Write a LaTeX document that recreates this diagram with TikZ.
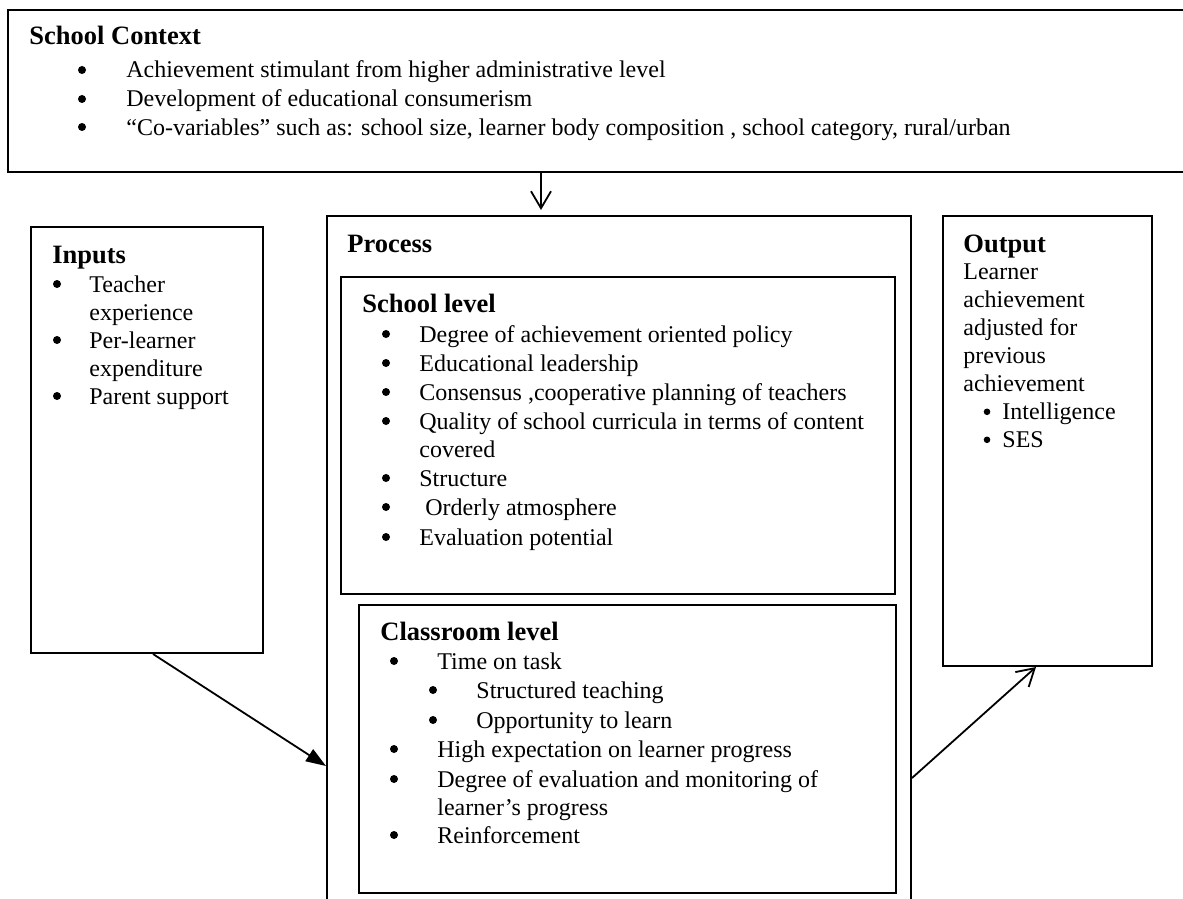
\documentclass[tikz,border=0pt]{standalone}
\usepackage{fontspec}
\setmainfont{Liberation Serif}
\usetikzlibrary{arrows.meta,fit}

\tikzset{
  box/.style={draw, line width=1pt, inner sep=0pt},
  title/.style={anchor=base west, inner sep=0pt, font=\fontsize{13.25}{15}\selectfont\bfseries},
  item/.style={anchor=base west, inner sep=0pt, font=\fontsize{12}{14}\selectfont},
  dot/.style={circle, fill, inner sep=0pt, minimum size=4pt, yshift=4pt},
  smalldot/.style={circle, fill, inner sep=0pt, minimum size=3.3pt, yshift=3.6pt},
  flow/.style={line width=0.9pt},
  barb/.style={-{Straight Barb[length=8.5pt,width=10pt]}},
  solidtip/.style={-{Triangle[length=10pt,width=7pt]}},
}

\begin{document}
\begin{tikzpicture}[x=0.5pt,y=-0.5pt]
\useasboundingbox (0,0) rectangle (1183,899);
\clip (0,0) rectangle (1183,899);

% ---------- frames ----------
\node[box, fit={(8,10) (1200,172)}] (ctx) {};
\node[box, fit={(31,227) (263,653)}] (inp) {};
\node[box, fit={(327,216) (911,930)}] (proc) {};
\node[box, fit={(341,277) (895,594)}] (slev) {};
\node[box, fit={(359,605) (896,893)}] (clev) {};
\node[box, fit={(943,216) (1152,666)}] (out) {};

% ---------- school context ----------
\node[title] (ctxT) at (29,45) {School Context};
\node[dot] (ctxB1) at (82,78) {};
\node[item] (ctx1) at (126,78) {Achievement stimulant from higher administrative level};
\node[dot] (ctxB2) at (82,107) {};
\node[item] (ctx2) at (126,107) {Development of educational consumerism};
\node[dot] (ctxB3) at (82,135) {};
\node[item] (ctx3) at (126,135) {“Co-variables” such as: school size, learner body composition , school category, rural/urban};

% ---------- inputs ----------
\node[title] (inpT) at (52,263) {Inputs};
\node[dot] (inpB1) at (57,292) {};
\node[item] (inp1a) at (89,292) {Teacher};
\node[item] (inp1b) at (89,320) {experience};
\node[dot] (inpB2) at (57,348) {};
\node[item] (inp2a) at (89,348) {Per-learner};
\node[item] (inp2b) at (89,376) {expenditure};
\node[dot] (inpB3) at (57,404) {};
\node[item] (inp3) at (89,404) {Parent support};

% ---------- process ----------
\node[title] (procT) at (347,252) {Process};

\node[title] (slevT) at (362,312) {School level};
\node[dot] (sB1) at (386,342) {};
\node[item] (s1) at (419,342) {Degree of achievement oriented policy};
\node[dot] (sB2) at (386,371) {};
\node[item] (s2) at (419,371) {Educational leadership};
\node[dot] (sB3) at (386,400) {};
\node[item] (s3) at (419,400) {Consensus ,cooperative planning of teachers};
\node[dot] (sB4) at (386,429) {};
\node[item] (s4a) at (419,429) {Quality of school curricula in terms of content};
\node[item] (s4b) at (419,457) {covered};
\node[dot] (sB5) at (386,486) {};
\node[item] (s5) at (419,486) {Structure};
\node[dot] (sB6) at (386,515) {};
\node[item] (s6) at (425,515) {Orderly atmosphere};
\node[dot] (sB7) at (386,545) {};
\node[item] (s7) at (419,545) {Evaluation potential};

\node[title] (clevT) at (380,640) {Classroom level};
\node[dot] (cB1) at (394,669) {};
\node[item] (c1) at (437,669) {Time on task};
\node[dot] (cB1a) at (433,698) {};
\node[item] (c1a) at (476,698) {Structured teaching};
\node[dot] (cB1b) at (433,728) {};
\node[item] (c1b) at (476,728) {Opportunity to learn};
\node[dot] (cB2) at (394,757) {};
\node[item] (c2) at (437,757) {High expectation on learner progress};
\node[dot] (cB3) at (394,787) {};
\node[item] (c3a) at (437,787) {Degree of evaluation and monitoring of};
\node[item] (c3b) at (437,815) {learner’s progress};
\node[dot] (cB4) at (394,843) {};
\node[item] (c4) at (437,843) {Reinforcement};

% ---------- output ----------
\node[title] (outT) at (963,252) {Output};
\node[item] (o1) at (963,279) {Learner};
\node[item] (o2) at (963,307) {achievement};
\node[item] (o3) at (963,335) {adjusted for};
\node[item] (o4) at (963,363) {previous};
\node[item] (o5) at (963,391) {achievement};
\node[smalldot] (oB1) at (987,419) {};
\node[item] (o6) at (1002,419) {Intelligence};
\node[smalldot] (oB2) at (987,447) {};
\node[item] (o7) at (1002,447) {SES};

% ---------- connectors ----------
\coordinate (ctxArrow) at (541,0);
\coordinate (inArrowStart) at (153,0);
\coordinate (inArrowEnd) at (0,766);
\coordinate (outArrowStart) at (0,778);
\coordinate (outArrowEnd) at (1036,0);

\draw[flow, barb, shorten >=2.5pt] (ctx.south -| ctxArrow) -- (proc.north -| ctxArrow);
\draw[flow, solidtip] (inp.south -| inArrowStart) -- (proc.west |- inArrowEnd);
\draw[flow, barb] (proc.east |- outArrowStart) -- (out.south -| outArrowEnd);
\end{tikzpicture}
\end{document}
